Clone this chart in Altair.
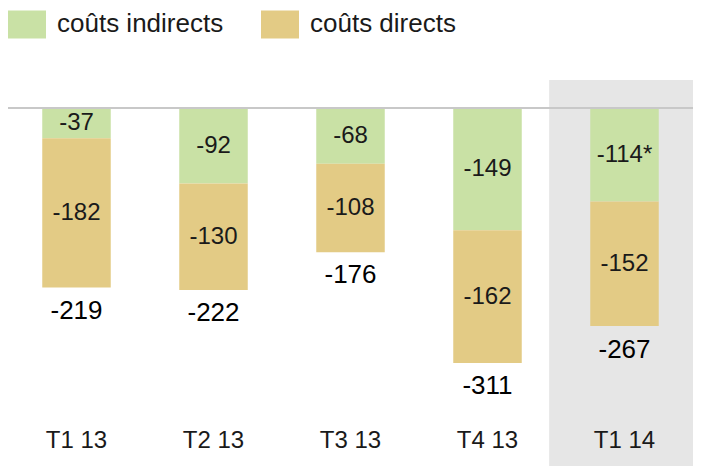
import altair as alt
import pandas as pd

categories = ["T1 13", "T2 13", "T3 13", "T4 13", "T1 14"]
indirect = [-37, -92, -68, -149, -114]
direct = [-182, -130, -108, -162, -152]
totals = [-219, -222, -176, -311, -267]
indirect_labels = ["-37", "-92", "-68", "-149", "-114*"]
direct_labels = ["-182", "-130", "-108", "-162", "-152"]
series_names = ["coûts indirects", "coûts directs"]
series_colors = ["#c9e1a5", "#e3cb85"]
highlight = "T1 14"

FONT = "Liberation Sans"
HALF = 0.25
W, H = 685, 458
STEP = 137.0
PX_PER_UNIT = 0.82
ZERO_PX = 100

rows = []
for i, c in enumerate(categories):
    top = 0
    bot = indirect[i]
    rows.append(dict(cat=c, i=i, xa=i - HALF, xb=i + HALF, series=series_names[0],
                     y0=top, y1=bot, mid=(top + bot) / 2, label=indirect_labels[i]))
    top2 = bot
    bot2 = bot + direct[i]
    rows.append(dict(cat=c, i=i, xa=i - HALF, xb=i + HALF, series=series_names[1],
                     y0=top2, y1=bot2, mid=(top2 + bot2) / 2, label=direct_labels[i]))
bars_df = pd.DataFrame(rows)

tot_df = pd.DataFrame({"cat": categories, "i": list(range(len(categories))), "total": totals,
                       "label": [str(t) for t in totals]})

hi = categories.index(highlight)
bg_df = pd.DataFrame({"xa": [hi - 0.55], "xb": [hi + 0.6]})
zero_df = pd.DataFrame({"xa": [-0.51], "xb": [len(categories) - 0.47], "y": [0]})

xscale = alt.Scale(domain=[-0.5, -0.5 + W / STEP], nice=False, zero=False)
yscale = alt.Scale(domain=[-(H - ZERO_PX) / PX_PER_UNIT, ZERO_PX / PX_PER_UNIT], nice=False, zero=False)

bg = alt.Chart(bg_df).mark_rect(color="#e6e6e6").encode(
    x=alt.X("xa:Q", scale=xscale, axis=None),
    x2="xb:Q",
    y=alt.value(72),
    y2=alt.value(H),
)

bars = alt.Chart(bars_df).mark_rect().encode(
    x=alt.X("xa:Q", scale=xscale, axis=None),
    x2="xb:Q",
    y=alt.Y("y0:Q", scale=yscale, axis=None),
    y2="y1:Q",
    color=alt.Color("series:N",
                    scale=alt.Scale(domain=series_names, range=series_colors),
                    legend=alt.Legend(title=None, orient="none", legendX=0, legendY=-3,
                                      direction="horizontal",
                                      symbolType="M-1,-0.737H1V0.737H-1Z",
                                      symbolSize=1444, symbolStrokeWidth=0,
                                      symbolOpacity=1,
                                      labelFont=FONT, labelFontSize=26, labelColor="#1a1a1a",
                                      labelOffset=11, columnPadding=37, padding=0,
                                      labelLimit=400)),
)

zero = alt.Chart(zero_df).mark_rule(color="#c8c8c8", strokeWidth=2).encode(
    x=alt.X("xa:Q", scale=xscale, axis=None),
    x2="xb:Q",
    y=alt.Y("y:Q", scale=yscale, axis=None),
)

inner = alt.Chart(bars_df).mark_text(font=FONT, fontSize=24, color="#1a1a1a",
                                     baseline="middle", align="center").encode(
    x=alt.X("i:Q", scale=xscale, axis=None),
    y=alt.Y("mid:Q", scale=yscale, axis=None),
    text="label:N",
)

tot = alt.Chart(tot_df).mark_text(font=FONT, fontSize=26, color="#000000",
                                  baseline="middle", align="center", dy=23).encode(
    x=alt.X("i:Q", scale=xscale, axis=None),
    y=alt.Y("total:Q", scale=yscale, axis=None),
    text="label:N",
)

catlab = alt.Chart(tot_df).mark_text(font=FONT, fontSize=24, color="#1a1a1a",
                                     baseline="middle", align="center").encode(
    x=alt.X("i:Q", scale=xscale, axis=None),
    y=alt.value(433),
    text="cat:N",
)

chart = alt.layer(bg, bars, zero, inner, tot, catlab).properties(
    width=W, height=H, padding=0, autosize=alt.AutoSizeParams(type="none")
).configure_view(stroke=None)

chart.save("out.html", embed_options={"renderer": "svg", "actions": False})
